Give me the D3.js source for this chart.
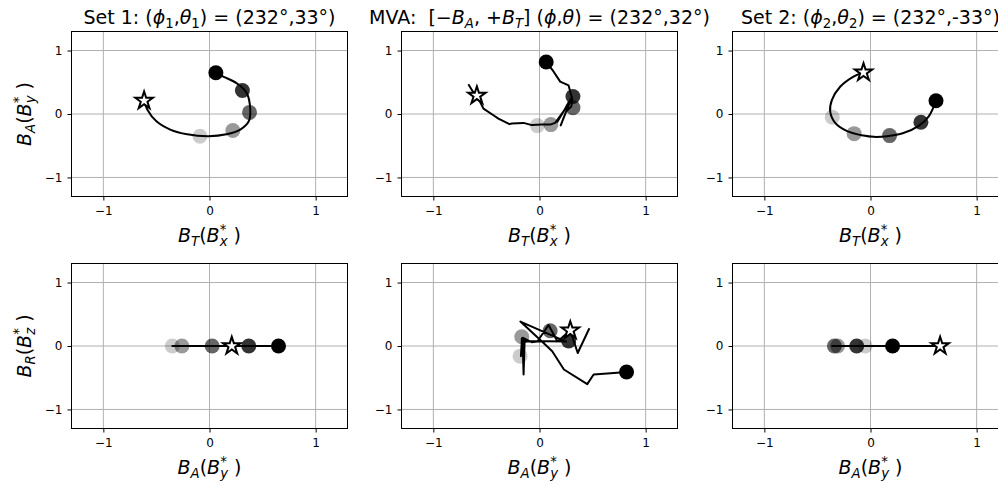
<!DOCTYPE html>
<html>
<head>
<meta charset="utf-8">
<script src="https://cdn.jsdelivr.net/npm/d3@7"></script>
<style>
  body { margin: 0; background: #fff; }
  svg { display: block; font-family: "DejaVu Sans", sans-serif; }
</style>
</head>
<body>
<svg id="chart" width="998" height="486"></svg>
<script>
// Set 1 hodogram (star = first point, black dot = last)
var s1BT = [-0.616, -0.585, -0.50, -0.37, -0.21, -0.01, 0.16, 0.29, 0.37, 0.384, 0.35, 0.26, 0.13, 0.06];
var s1BA = [0.21, 0.067, -0.115, -0.245, -0.32, -0.35, -0.32, -0.245, -0.115, 0.067, 0.33, 0.48, 0.59, 0.65];
var s1BR = [0, 0, 0, 0, 0, 0, 0, 0, 0, 0, 0, 0, 0, 0];
var c1BT = [-0.09, 0.22, 0.377, 0.31, 0.06];
var c1BA = [-0.35, -0.26, 0.025, 0.37, 0.65];
var c1BR = [0, 0, 0, 0, 0];

// MVA (datos con ruido)
var mvaBT = [-0.67, -0.63, -0.59, -0.553, -0.528, -0.434, -0.387, -0.283, -0.26, -0.15, -0.072, 0.02, 0.10, 0.148, 0.23, 0.17, 0.30, 0.20, 0.25, 0.30, 0.31, 0.274, 0.195, 0.132, 0.063];
var mvaBA = [0.47, 0.36, 0.29, 0.17, 0.085, -0.02, -0.074, -0.16, -0.15, -0.14, -0.175, -0.167, -0.167, -0.14, 0.05, -0.12, 0.25, -0.18, 0.038, 0.12, 0.23, 0.45, 0.51, 0.67, 0.82];
var mvaBR = [0.28, -0.11, 0.245, 0.07, 0.33, 0.07, 0.06, 0.13, -0.45, 0.10, -0.16, 0.07, 0.12, 0.07, 0.07, 0.08, 0.07, 0.385, 0.047, -0.084, -0.37, -0.60, -0.45, -0.43, -0.41];
var cmBT = [-0.02, 0.107, 0.315, 0.315, 0.063];
var cmBA = [-0.183, -0.167, 0.10, 0.275, 0.82];
var cmBR = [-0.16, 0.145, 0.24, 0.08, -0.41];

// Set 2
var s2BT = [-0.066, -0.16, -0.286, -0.364, -0.38, -0.333, -0.22, -0.066, 0.03, 0.155, 0.31, 0.45, 0.547, 0.617];
var s2BA = [0.656, 0.59, 0.43, 0.22, 0.04, -0.14, -0.27, -0.34, -0.36, -0.35, -0.30, -0.19, -0.04, 0.208];
var s2BR = [0, 0, 0, 0, 0, 0, 0, 0, 0, 0, 0, 0, 0, 0];
var c2BT = [-0.36, -0.154, 0.18, 0.475, 0.617];
var c2BA = [-0.05, -0.31, -0.34, -0.13, 0.208];
var c2BR = [0, 0, 0, 0, 0];

var dotAlpha = [0.2, 0.4, 0.6, 0.8, 1.0];
var tickVals = [-1, 0, 1];

var svg = d3.select("#chart");
var colX = [71.5, 401.5, 732.5], rowY = [31.5, 263.5];
var pw = 276, ph = 165;

// texto con sub/superindices tipo mathtext
function addMath(text, parts, fs) {
    var shift = 0, lastW = 0;
    parts.forEach(function (p) {
        var target = p.sub ? fs * 0.22 : p.sup ? -fs * 0.42 : 0;
        var ts = text.append("tspan").text(p.t)
            .attr("dy", target - shift)
            .style("font-style", p.i ? "italic" : "normal")
            .style("font-size", (p.sub || p.sup) ? (fs * 0.7) + "px" : fs + "px");
        if (p.back) ts.attr("dx", -lastW);
        shift = target;
        lastW = ts.node().getComputedTextLength();
    });
}

function bLabel(sub, comp) {
    return [{t: "B", i: true}, {t: sub, i: true, sub: true}, {t: "("}, {t: "B", i: true},
        {t: "*", sup: true}, {t: comp, i: true, sub: true, back: true}, {t: " )"}];
}

var panels = [
    {c: 0, r: 0, x: s1BT, y: s1BA, cx: c1BT, cy: c1BA, star: 0, smooth: true},
    {c: 1, r: 0, x: mvaBT, y: mvaBA, cx: cmBT, cy: cmBA, star: 2, smooth: false},
    {c: 2, r: 0, x: s2BT, y: s2BA, cx: c2BT, cy: c2BA, star: 0, smooth: true},
    {c: 0, r: 1, x: s1BA, y: s1BR, cx: c1BA, cy: c1BR, star: 0, smooth: true},
    {c: 1, r: 1, x: mvaBA, y: mvaBR, cx: cmBA, cy: cmBR, star: 2, smooth: false},
    {c: 2, r: 1, x: s2BA, y: s2BR, cx: c2BA, cy: c2BR, star: 0, smooth: true}
];

panels.forEach(function (p) {
    var x0 = colX[p.c], y0 = rowY[p.r];
    var x = d3.scaleLinear().domain([-1.3, 1.3]).range([x0, x0 + pw]);
    var y = d3.scaleLinear().domain([-1.3, 1.3]).range([y0 + ph, y0]);
    var g = svg.append("g");

    // rejilla
    g.selectAll(".gx").data(tickVals).join("line")
        .attr("x1", function (d) { return x(d); }).attr("x2", function (d) { return x(d); })
        .attr("y1", y0).attr("y2", y0 + ph)
        .attr("stroke", "#b0b0b0").attr("stroke-width", 1);
    g.selectAll(".gy").data(tickVals).join("line")
        .attr("y1", function (d) { return y(d); }).attr("y2", function (d) { return y(d); })
        .attr("x1", x0).attr("x2", x0 + pw)
        .attr("stroke", "#b0b0b0").attr("stroke-width", 1);

    var idx = d3.range(p.x.length);
    var line = d3.line()
        .x(function (i) { return x(p.x[i]); })
        .y(function (i) { return y(p.y[i]); })
        .curve(p.smooth ? d3.curveCatmullRom : d3.curveLinear);
    g.append("path").attr("d", line(idx))
        .attr("fill", "none").attr("stroke", "#000").attr("stroke-width", 2)
        .attr("stroke-linejoin", "round");

    g.selectAll(".dot").data(d3.range(p.cx.length)).join("circle")
        .attr("cx", function (i) { return x(p.cx[i]); })
        .attr("cy", function (i) { return y(p.cy[i]); })
        .attr("r", 7.5)
        .attr("fill", "#000")
        .attr("fill-opacity", function (i) { return dotAlpha[i]; });

    g.append("path")
        .attr("d", d3.symbol().type(d3.symbolStar).size(95)())
        .attr("transform", "translate(" + x(p.x[p.star]) + "," + y(p.y[p.star]) + ")")
        .attr("fill", "#fff").attr("stroke", "#000").attr("stroke-width", 2)
        .attr("stroke-linejoin", "miter");

    // ejes
    var fmt = d3.format("d");
    var ax = g.append("g").attr("transform", "translate(0," + (y0 + ph) + ")")
        .call(d3.axisBottom(x).tickValues(tickVals).tickFormat(fmt).tickSize(4).tickPadding(6).tickSizeOuter(0));
    var ay = g.append("g").attr("transform", "translate(" + x0 + ",0)")
        .call(d3.axisLeft(y).tickValues(tickVals).tickFormat(fmt).tickSize(4).tickPadding(5).tickSizeOuter(0));
    [ax, ay].forEach(function (a) {
        a.select(".domain").remove();
        a.selectAll("text").style("font-size", "12px").attr("fill", "#000")
            .style("font-family", "DejaVu Sans");
        a.selectAll("line").attr("stroke", "#000");
    });

    g.append("rect").attr("x", x0).attr("y", y0).attr("width", pw).attr("height", ph)
        .attr("fill", "none").attr("stroke", "#000").attr("stroke-width", 1);

    // etiqueta x
    var xl = g.append("text").attr("x", x0 + pw / 2).attr("y", y0 + ph + 45)
        .attr("text-anchor", "middle");
    addMath(xl, p.r === 0 ? bLabel("T", "x") : bLabel("A", "y"), 19);

    if (p.c === 0) {
        var cy = y0 + ph / 2;
        var yl = g.append("text").attr("text-anchor", "middle")
            .attr("transform", "translate(31," + cy + ") rotate(-90)");
        addMath(yl, p.r === 0 ? bLabel("A", "y") : bLabel("R", "z"), 19);
    }
});

// titulos
var titles = [
    [{t: "Set 1: ("}, {t: "ϕ", i: true}, {t: "1", sub: true}, {t: ","}, {t: "θ", i: true}, {t: "1", sub: true}, {t: ") = (232°,33°)"}],
    [{t: "MVA:  [−"}, {t: "B", i: true}, {t: "A", i: true, sub: true}, {t: ", +"}, {t: "B", i: true}, {t: "T", i: true, sub: true},
        {t: "] ("}, {t: "ϕ", i: true}, {t: ","}, {t: "θ", i: true}, {t: ") = (232°,32°)"}],
    [{t: "Set 2: ("}, {t: "ϕ", i: true}, {t: "2", sub: true}, {t: ","}, {t: "θ", i: true}, {t: "2", sub: true}, {t: ") = (232°,-33°)"}]
];
titles.forEach(function (parts, k) {
    var t = svg.append("text").attr("x", colX[k] + pw / 2).attr("y", 24).attr("text-anchor", "middle")
        .style("white-space", "pre");
    addMath(t, parts, 19);
});
</script>
</body>
</html>
